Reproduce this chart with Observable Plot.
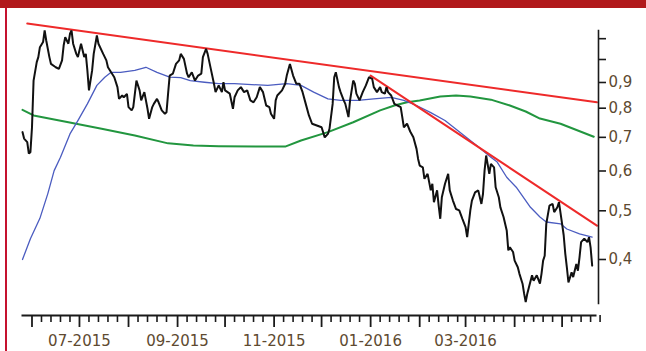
<!DOCTYPE html>
<html><head><meta charset="utf-8">
<script src="https://cdn.jsdelivr.net/npm/d3@7"></script>
<script src="https://cdn.jsdelivr.net/npm/@observablehq/plot@0.6"></script>
<style>
html,body{margin:0;padding:0;background:#fff;}
#wrap{position:relative;width:646px;height:351px;overflow:hidden;background:#fff;}
#chart{position:absolute;left:0;top:0;}
#topbar{position:absolute;left:0;top:0;width:646px;height:8px;background:#b1191b;}
#leftbar{position:absolute;left:5px;top:8px;width:2px;height:343px;background:#c5122f;}
</style></head><body>
<div id="wrap"><div id="chart"></div><div id="topbar"></div><div id="leftbar"></div></div>
<script>
// ---- price series (black) ----
const priceDates = [
"2015-05-26","2015-05-27","2015-05-29","2015-05-30","2015-05-31",
"2015-06-01","2015-06-02","2015-06-04","2015-06-05","2015-06-06","2015-06-08","2015-06-09","2015-06-10","2015-06-12","2015-06-13","2015-06-16","2015-06-18","2015-06-20","2015-06-21","2015-06-22","2015-06-24","2015-06-25","2015-06-26","2015-06-27","2015-06-29","2015-06-30",
"2015-07-02","2015-07-04","2015-07-05","2015-07-06","2015-07-07","2015-07-09","2015-07-10","2015-07-12","2015-07-13","2015-07-16","2015-07-18","2015-07-19","2015-07-21","2015-07-23","2015-07-25","2015-07-26","2015-07-28","2015-07-29","2015-07-31",
"2015-08-01","2015-08-03","2015-08-04","2015-08-06","2015-08-08","2015-08-09","2015-08-11","2015-08-13","2015-08-14","2015-08-16","2015-08-17","2015-08-19","2015-08-20","2015-08-22","2015-08-24","2015-08-25","2015-08-26","2015-08-27","2015-08-29","2015-08-31",
"2015-09-02","2015-09-03","2015-09-05","2015-09-07","2015-09-08","2015-09-10","2015-09-12","2015-09-14","2015-09-16","2015-09-17","2015-09-19","2015-09-20","2015-09-22","2015-09-24","2015-09-25","2015-09-27","2015-09-29","2015-09-30",
"2015-10-01","2015-10-04","2015-10-06","2015-10-07","2015-10-09","2015-10-11","2015-10-13","2015-10-15","2015-10-17","2015-10-19","2015-10-21","2015-10-23","2015-10-25","2015-10-27","2015-10-29","2015-10-30",
"2015-11-01","2015-11-02","2015-11-03","2015-11-06","2015-11-08","2015-11-09","2015-11-11","2015-11-13","2015-11-15","2015-11-17","2015-11-19","2015-11-21","2015-11-23","2015-11-25","2015-11-28",
"2015-12-01","2015-12-03","2015-12-05","2015-12-06","2015-12-08","2015-12-09","2015-12-10","2015-12-12","2015-12-13","2015-12-15","2015-12-16","2015-12-18","2015-12-19","2015-12-21","2015-12-22","2015-12-23","2015-12-25","2015-12-27","2015-12-29","2015-12-31",
"2016-01-02","2016-01-03","2016-01-05","2016-01-07","2016-01-08","2016-01-10","2016-01-11","2016-01-12","2016-01-14","2016-01-16","2016-01-18","2016-01-20","2016-01-21","2016-01-22","2016-01-24","2016-01-26","2016-01-28","2016-01-30","2016-01-31",
"2016-02-01","2016-02-03","2016-02-04","2016-02-06","2016-02-08","2016-02-09","2016-02-10","2016-02-12","2016-02-13","2016-02-14","2016-02-15","2016-02-17","2016-02-19","2016-02-20","2016-02-22","2016-02-24","2016-02-26","2016-02-28",
"2016-03-01","2016-03-02","2016-03-04","2016-03-05","2016-03-07","2016-03-09","2016-03-11","2016-03-12","2016-03-13","2016-03-14","2016-03-16","2016-03-17","2016-03-19","2016-03-20","2016-03-22","2016-03-23","2016-03-25","2016-03-27","2016-03-28","2016-03-29","2016-03-31",
"2016-04-01","2016-04-03","2016-04-04","2016-04-06","2016-04-07","2016-04-08","2016-04-09","2016-04-10","2016-04-12","2016-04-13","2016-04-15","2016-04-17","2016-04-18","2016-04-19","2016-04-20","2016-04-21","2016-04-23","2016-04-25","2016-04-26","2016-04-28","2016-04-29",
"2016-05-01","2016-05-02","2016-05-03","2016-05-04","2016-05-05","2016-05-07","2016-05-08","2016-05-10","2016-05-11","2016-05-12","2016-05-13","2016-05-15","2016-05-17","2016-05-18","2016-05-19","2016-05-20"
];
const priceValues = [
0.717,0.696,0.685,0.650,0.654,
0.733,0.908,0.988,1.011,1.058,1.083,1.142,1.091,1.011,0.980,0.965,0.958,0.996,1.066,1.107,1.075,1.125,1.142,1.075,1.026,1.011,
1.075,1.011,1.026,0.951,0.868,0.951,1.026,1.116,1.075,1.026,0.996,0.965,0.943,0.922,0.881,0.835,0.848,0.841,0.854,
0.804,0.792,0.804,0.908,0.868,0.829,0.861,0.798,0.762,0.804,0.816,0.835,0.822,0.792,0.780,0.785,0.855,0.929,0.937,0.980,
0.996,1.026,1.003,0.937,0.922,0.943,0.908,0.929,0.937,1.011,1.050,1.026,0.958,0.895,0.861,0.888,0.861,0.901,
0.868,0.855,0.798,0.841,0.868,0.881,0.861,0.868,0.829,0.822,0.841,0.881,0.861,0.810,0.804,0.780,
0.762,0.829,0.848,0.868,0.895,0.929,0.980,0.929,0.895,0.895,0.861,0.816,0.774,0.745,0.739,
0.733,0.700,0.711,0.728,0.816,0.922,0.943,0.881,0.861,0.829,0.816,0.768,0.829,0.908,0.895,0.855,0.829,0.861,0.888,0.922,
0.915,0.881,0.861,0.881,0.861,0.855,0.881,0.861,0.848,0.816,0.810,0.804,0.768,0.733,0.745,0.719,0.700,0.664,0.634,
0.615,0.610,0.579,0.592,0.549,0.566,0.520,0.549,0.512,0.482,0.532,0.566,0.592,0.549,0.524,0.504,0.501,0.482,
0.464,0.443,0.501,0.524,0.544,0.549,0.516,0.540,0.601,0.644,0.592,0.620,0.610,0.557,0.532,0.508,0.486,0.457,0.417,0.423,0.414,
0.398,0.386,0.375,0.358,0.342,0.329,0.342,0.352,0.372,0.363,0.372,0.358,0.375,0.398,0.407,0.471,0.512,0.516,0.497,0.508,0.520,
0.471,0.447,0.411,0.386,0.360,0.377,0.369,0.392,0.380,0.404,0.433,0.440,0.433,0.443,0.423,0.389
];

// ---- short moving average (blue) ----
const shortMaDates = ["2015-05-26","2015-05-31","2015-06-06","2015-06-11","2015-06-15","2015-06-19","2015-06-25","2015-06-30","2015-07-06","2015-07-12","2015-07-17","2015-07-21","2015-07-27","2015-08-05","2015-08-12","2015-08-19","2015-08-27","2015-09-03","2015-09-09","2015-09-18","2015-09-27","2015-10-07","2015-10-28","2015-11-09","2015-11-18","2015-11-26","2015-12-05","2015-12-13","2015-12-24","2016-01-03","2016-01-14","2016-01-22","2016-01-30","2016-02-08","2016-02-17","2016-02-29","2016-03-08","2016-03-17","2016-03-21","2016-03-27","2016-04-02","2016-04-11","2016-04-17","2016-04-21","2016-04-30","2016-05-04","2016-05-12","2016-05-20"];
const shortMaValues = [0.400,0.440,0.483,0.541,0.601,0.639,0.711,0.756,0.816,0.888,0.922,0.943,0.943,0.951,0.965,0.943,0.922,0.920,0.908,0.901,0.895,0.895,0.888,0.895,0.888,0.861,0.835,0.829,0.829,0.835,0.841,0.829,0.810,0.784,0.756,0.706,0.674,0.639,0.625,0.583,0.557,0.508,0.486,0.475,0.471,0.460,0.450,0.443];

// ---- long moving average (green) ----
const longMaDates = ["2015-05-26","2015-06-02","2015-06-24","2015-07-15","2015-08-05","2015-08-26","2015-09-11","2015-09-27","2015-11-08","2015-11-18","2015-12-05","2015-12-21","2016-01-07","2016-01-16","2016-01-24","2016-02-01","2016-02-14","2016-02-24","2016-03-04","2016-03-17","2016-03-29","2016-04-08","2016-04-17","2016-04-30","2016-05-21"];
const longMaValues = [0.794,0.774,0.750,0.728,0.706,0.681,0.674,0.672,0.671,0.690,0.717,0.750,0.792,0.810,0.822,0.829,0.844,0.848,0.844,0.832,0.810,0.788,0.763,0.745,0.702];

// ---- trend lines (red) ----
const trend1Dates = ["2015-05-29","2016-05-23"];
const trend1Values = [1.179,0.822];
const trend2Dates = ["2016-01-01","2016-05-23"];
const trend2Values = [0.929,0.467];

// ---- axes ----
const yTicks = [1.1,1.0,0.9,0.8,0.7,0.6,0.5,0.4];
const yLabels = ["","","0,9","0,8","0,7","0,6","0,5","0,4"];
const monthTicks = ["2015-06-01","2015-07-01","2015-08-01","2015-09-01","2015-10-01","2015-11-01","2015-12-01","2016-01-01","2016-02-01","2016-03-01","2016-04-01","2016-05-01"];
const monthLabels = ["","07-2015","","09-2015","","11-2015","","01-2016","","03-2016","",""];
const minorTickDays = [7,13,19,25];
const xDomain = ["2015-05-26","2016-05-24"];
const yDomain = [0.32696,1.14205];

const parse = s => new Date(s + "T00:00:00Z");
const zip = (ds, vs) => ds.map((d,i) => ({date: parse(d), value: vs[i]}));
const price = zip(priceDates, priceValues);
const shortMa = zip(shortMaDates, shortMaValues);
const longMa = zip(longMaDates, longMaValues);
const trend1 = zip(trend1Dates, trend1Values);
const trend2 = zip(trend2Dates, trend2Values);

const monthDates = monthTicks.map(parse);
const monthLabelMap = new Map(monthDates.map((d,i)=>[+d, monthLabels[i]]));
const minorTicks = [];
for (const m of monthDates) for (const dd of minorTickDays) minorTicks.push(new Date(Date.UTC(m.getUTCFullYear(), m.getUTCMonth(), dd)));
const yLabelMap = new Map(yTicks.map((t,i)=>[t, yLabels[i]]));

const textColor = "#5e4a30";
const axisColor = "#1a1a1a";

const chart = Plot.plot({
  width: 646, height: 351,
  marginTop: 30, marginBottom: 48, marginLeft: 22, marginRight: 48,
  style: {fontFamily: "'DejaVu Sans', Verdana, sans-serif", background: "transparent"},
  x: {type: "utc", domain: xDomain.map(parse), label: null},
  y: {type: "log", domain: yDomain, label: null},
  marks: [
    Plot.line(longMa, {x: "date", y: "value", stroke: "#22963f", strokeWidth: 2}),
    Plot.line(shortMa, {x: "date", y: "value", stroke: "#4b5cc0", strokeWidth: 1.3}),
    Plot.line(trend1, {x: "date", y: "value", stroke: "#ee2a2a", strokeWidth: 2}),
    Plot.line(trend2, {x: "date", y: "value", stroke: "#ee2a2a", strokeWidth: 2}),
    Plot.line(price, {x: "date", y: "value", stroke: "#111", strokeWidth: 2, strokeLinejoin: "miter"}),
    Plot.frame({anchor: "right", stroke: axisColor, strokeWidth: 1.6}),
    Plot.frame({anchor: "bottom", dy: 12, insetRight: 3, stroke: axisColor, strokeWidth: 2}),
    Plot.axisY({anchor: "right", ticks: yTicks, tickSize: 7, tickPadding: 3, label: null,
      tickFormat: d => yLabelMap.get(d) ?? "", fontSize: 15, stroke: axisColor, fill: textColor, strokeWidth: 1.6}),
    Plot.axisX({anchor: "bottom", ticks: minorTicks, tickSize: 7, tickFormat: () => "", label: null, dy: 12, stroke: axisColor, strokeWidth: 1.6}),
    Plot.axisX({anchor: "bottom", ticks: monthDates, tickSize: 12, tickPadding: 8, label: null,
      tickFormat: d => monthLabelMap.get(+d) ?? "", dy: 12, fontSize: 15, stroke: axisColor, fill: textColor, strokeWidth: 1.8})
  ]
});
document.getElementById("chart").appendChild(chart);
</script>
</body></html>
